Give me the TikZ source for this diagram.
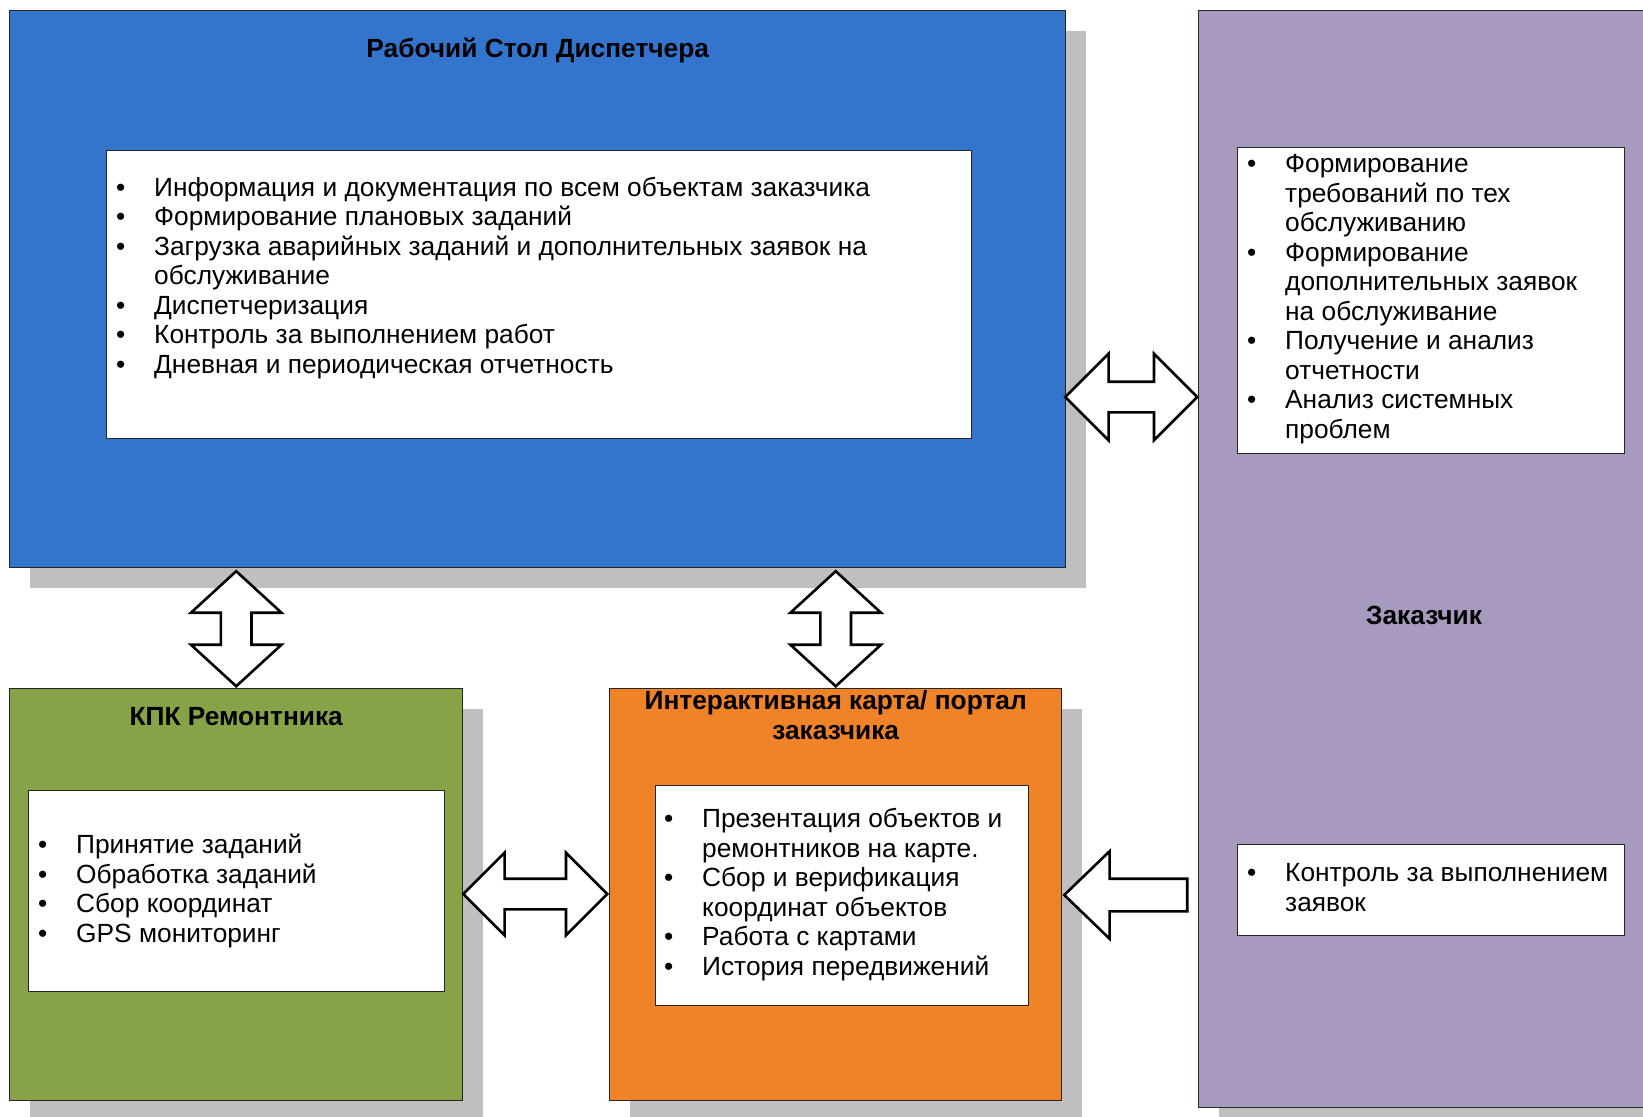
\documentclass[tikz,border=0pt]{standalone}
\usepackage{fontspec}
\setmainfont{Liberation Sans}
\usetikzlibrary{positioning, shapes.arrows, shadows}

\definecolor{deskblue}{RGB}{51,117,204}
\definecolor{clientlilac}{RGB}{168,153,191}
\definecolor{pdagreen}{RGB}{134,164,71}
\definecolor{maporange}{RGB}{240,130,40}
\definecolor{shadowgray}{RGB}{191,191,191}

\newcommand{\bul}{\makebox[38pt][l]{\textbullet}}
\newcommand{\ind}{\hspace*{38pt}}

\begin{document}
\begin{tikzpicture}[x=1pt, y=-1pt]

	\tikzstyle{block}=[draw=black!85, line width=1.4pt, anchor=north west, inner sep=0pt, drop shadow={shadow xshift=20pt, shadow yshift=-20pt, fill=shadowgray, opacity=1}]
	\tikzstyle{listbox}=[draw=black!85, line width=1.4pt, fill=white, anchor=north west, inner sep=0pt]
	% base of a multi-line node = baseline of its last line
	\tikzstyle{items}=[anchor=base west, align=left, inner sep=0pt, font=\fontsize{26.3}{29.5}\selectfont]
	\tikzstyle{title}=[anchor=base, align=center, inner sep=0pt, font=\bfseries\fontsize{26.3}{29.5}\selectfont]

	\tikzstyle{dblarrow}=[double arrow, draw=black, line width=2.6pt, fill=white, inner xsep=0pt, inner ysep=14pt, double arrow head extend=28pt]
	\tikzstyle{onearrow}=[single arrow, draw=black, line width=2.6pt, fill=white, inner xsep=0pt, inner ysep=15pt, single arrow head extend=27.5pt, single arrow tip angle=88]

	\useasboundingbox (0,0) rectangle (1643,1116);
	\clip (0,0) rectangle (1643,1116);

	\node[block, fill=deskblue, minimum width=1056, minimum height=557] (desk) at (9,10) {};
	\node[block, fill=clientlilac, minimum width=460, minimum height=1097] (client) at (1198,10) {};
	\node[block, fill=pdagreen, minimum width=453, minimum height=412] (pda) at (9,688) {};
	\node[block, fill=maporange, minimum width=452, minimum height=412] (map) at (609,688) {};

	\node[listbox, minimum width=865, minimum height=288] (dlist) at (106,150) {};
	\node[listbox, minimum width=387, minimum height=306] (clist) at (1237,147) {};
	\node[listbox, minimum width=387, minimum height=91] (clist2) at (1237,844) {};
	\node[listbox, minimum width=416, minimum height=201] (plist) at (28,790) {};
	\node[listbox, minimum width=373, minimum height=220] (mlist) at (655,785) {};

	\node[title] (desktitle) at (desk.north |- 0,57) {Рабочий Стол Диспетчера};
	\node[title] (pdatitle) at (pda.north |- 0,725) {КПК Ремонтника};
	\node[title] (maptitle) at (map.north |- 0,739) {Интерактивная карта/ портал\\заказчика};
	\node[title] (clienttitle) at (1424,624) {Заказчик};

	\node[items] (desktext) at (116,373) {\bul Информация и документация по всем объектам заказчика\\
		\bul Формирование плановых заданий\\
		\bul Загрузка аварийных заданий и дополнительных заявок на\\
		\ind обслуживание\\
		\bul Диспетчеризация\\
		\bul Контроль за выполнением работ\\
		\bul Дневная и периодическая отчетность};
	\node[items] (clienttext) at (1247,438) {\bul Формирование\\
		\ind требований по тех\\
		\ind обслуживанию\\
		\bul Формирование\\
		\ind дополнительных заявок\\
		\ind на обслуживание\\
		\bul Получение и анализ\\
		\ind отчетности\\
		\bul Анализ системных\\
		\ind проблем};
	\node[items] (clienttext2) at (1247,911) {\bul Контроль за выполнением\\
		\ind заявок};
	\node[items] (pdatext) at (38,942) {\bul Принятие заданий\\
		\bul Обработка заданий\\
		\bul Сбор координат\\
		\bul GPS мониторинг};
	\node[items] (maptext) at (664,975) {\bul Презентация объектов и\\
		\ind ремонтников на карте.\\
		\bul Сбор и верификация\\
		\ind координат объектов\\
		\bul Работа с картами\\
		\bul История передвижений};

	% block arrows
	\node[dblarrow, minimum height=132, xshift=-3pt, anchor=west] (deskclient) at (desk.east |- 0,397) {};
	\node[dblarrow, rotate=90, minimum height=115, double arrow head extend=30pt, double arrow tip angle=95, anchor=west] (deskpda) at (pda.north) {};
	\node[dblarrow, rotate=90, minimum height=115, double arrow head extend=30pt, double arrow tip angle=95, anchor=west] (deskmap) at (map.north) {};
	\node[dblarrow, minimum height=144, xshift=-2pt, double arrow head extend=26pt, anchor=west] (pdamap) at (pda.east |- 0,894) {};
	\node[onearrow, shape border rotate=180, minimum height=123, anchor=tip] (clientmap) at (map.east |- 0,895) {};

\end{tikzpicture}
\end{document}
